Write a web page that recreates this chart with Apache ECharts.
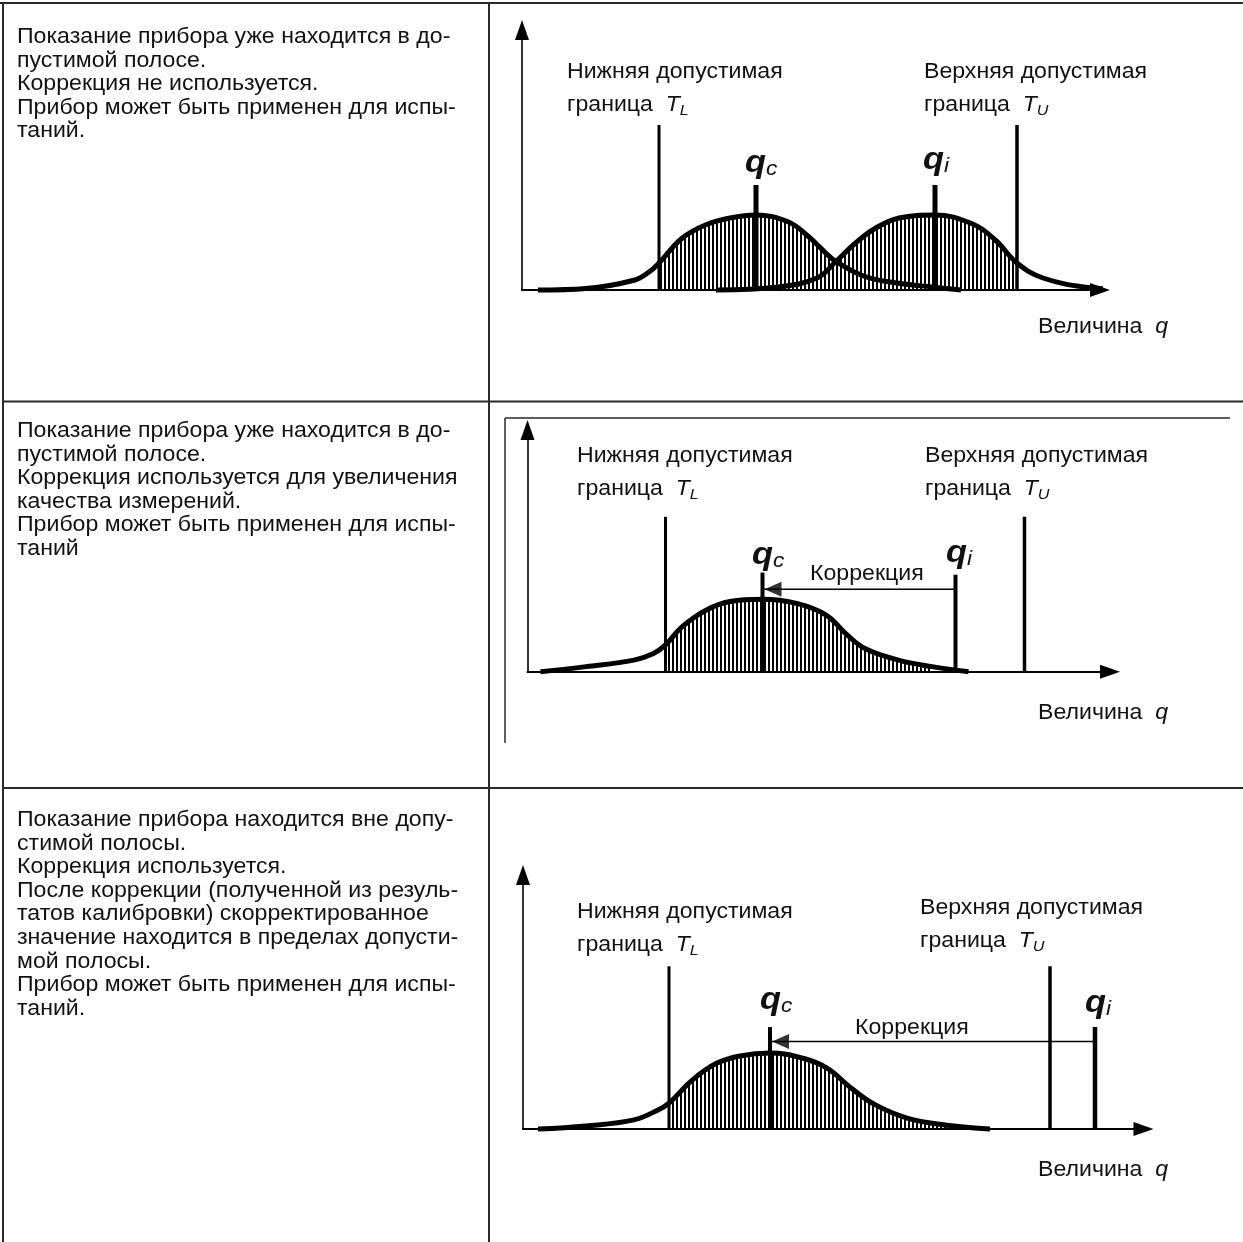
<!DOCTYPE html>
<html><head><meta charset="utf-8">
<script src="https://cdn.jsdelivr.net/npm/echarts@6/dist/echarts.min.js"></script>
<style>html,body{margin:0;padding:0;background:#fff}#c{width:1243px;height:1242px}</style>
</head><body><div id="c"></div>
<script>
// ---------- data (q in arbitrary units, density normalised to peak = 1) ----------
// Panel 1
const p1CurveC = [[1.6,0],[6.4,0.02],[11.2,0.13],[12.7,0.24],[13.7,0.36],[16.0,0.69],[18.4,0.87],[20.8,0.96],[23.4,1.0],[26.6,0.91],[28.5,0.73],[30.4,0.49],[31.4,0.38],[34.3,0.18],[37.7,0.09],[41.0,0.04],[43.9,0]];
const p1CurveI = [[19.4,0],[25.6,0.04],[29.5,0.16],[31.4,0.38],[33.3,0.62],[35.3,0.82],[37.7,0.96],[41.3,1.0],[44.9,0.89],[47.3,0.67],[49.5,0.36],[52.1,0.16],[56.9,0.03],[61.9,0]];
const p1Marks = {TL:13.7, TU:49.5, qc:23.4, qi:41.3, hT:2.2, hqc:1.4, hqi:1.4};
// Panel 2
const p2Curve = [[1.3,0],[5.85,0.07],[10.65,0.16],[12.6,0.25],[13.8,0.37],[15.45,0.62],[17.85,0.85],[20.25,0.97],[23.5,1.0],[27.0,0.94],[29.9,0.78],[31.8,0.53],[33.75,0.32],[37.1,0.16],[40.45,0.07],[44.1,0]];
const p2Marks = {TL:13.8, TU:49.7, qc:23.5, qi:42.8, hT:2.14, hqc:1.37, hqi:1.34, yArrow:1.14};
// Panel 3
const p3Curve = [[1.5,0],[6.3,0.04],[11.1,0.12],[13.5,0.25],[14.6,0.34],[16.9,0.64],[19.3,0.86],[21.7,0.96],[24.7,1.0],[28.0,0.93],[30.4,0.80],[32.8,0.54],[35.2,0.32],[38.5,0.14],[42.4,0.05],[46.7,0]];
const p3Marks = {TL:14.6, TU:52.7, qc:24.7, qi:57.2, hT:2.14, hqc:1.34, hqi:1.34, yArrow:1.15};
// axis extents
const axisMax = [{x:57.8, y:3.467},{x:58.25, y:3.34},{x:62.05, y:3.34}];

// texts
const rowTexts1 = ["Показание прибора уже находится в до-","пустимой полосе.","Коррекция не используется.","Прибор может быть применен для испы-","таний."];
const rowTexts2 = ["Показание прибора уже находится в до-","пустимой полосе.","Коррекция используется для увеличения","качества измерений.","Прибор может быть применен для испы-","таний"];
const rowTexts3 = ["Показание прибора находится вне допу-","стимой полосы.","Коррекция используется.","После коррекции (полученной из резуль-","татов калибровки) скорректированное","значение находится в пределах допусти-","мой полосы.","Прибор может быть применен для испы-","таний."];
const lowerLabel = "Нижняя допустимая";
const upperLabel = "Верхняя допустимая";
const boundWord = "граница";
const corrLabel = "Коррекция";
const qLabel = "Величина";

// ---------- rendering ----------
const FONT = '"Liberation Sans", Arial, sans-serif';
const SX = 1.075;
const FS = 21.5;
const chart = echarts.init(document.getElementById('c'), null, {renderer:'canvas'});

const hatch = document.createElement('canvas');
hatch.width = 4; hatch.height = 4;
(function(){const c = hatch.getContext('2d'); c.fillStyle = '#000'; c.fillRect(0,0,2,4);})();
const hatchFill = {image: hatch, repeat: 'repeat'};

const grids = [
  {left:522, top:30, width:578, height:260},
  {left:527.5, top:430, width:582.5, height:241.7},
  {left:523, top:875, width:620.5, height:254}
];
const axisLine = {show:true, symbol:['none','triangle'], symbolSize:[14,20], lineStyle:{color:'#000', width:2}};
const xAxes = axisMax.map((m,i)=>({gridIndex:i, type:'value', min:0, max:m.x, axisLine, axisTick:{show:false}, axisLabel:{show:false}, splitLine:{show:false}}));
const yAxes = axisMax.map((m,i)=>({gridIndex:i, type:'value', min:0, max:m.y, axisLine:Object.assign({}, axisLine, {lineStyle:{color:'#000', width:1.6}}), axisTick:{show:false}, axisLabel:{show:false}, splitLine:{show:false}}));

const SM = 0.4;
const series = [];
function curve(gi, data){ series.push({type:'line', xAxisIndex:gi, yAxisIndex:gi, data, smooth:SM, symbol:'none', clip:false, silent:true, lineStyle:{color:'#000', width:5}, z:4}); }
function hatchArea(gi, data){ series.push({type:'line', xAxisIndex:gi, yAxisIndex:gi, data, smooth:SM, symbol:'none', clip:false, silent:true, lineStyle:{width:0, opacity:0}, areaStyle:{color:hatchFill, opacity:1}, z:2}); }
function vline(gi, x, h, w){ series.push({type:'line', xAxisIndex:gi, yAxisIndex:gi, data:[[x,0],[x,h]], symbol:'none', clip:false, silent:true, lineStyle:{color:'#000', width:w}, z:5}); }
function corr(gi, m){
  series.push({type:'line', xAxisIndex:gi, yAxisIndex:gi, data:[[m.qc,m.yArrow],[m.qi,m.yArrow]], symbol:'none', clip:false, silent:true, lineStyle:{color:'#000', width:1.5}, z:5});
  series.push({type:'scatter', xAxisIndex:gi, yAxisIndex:gi, data:[[m.qc,m.yArrow]], symbol:'path://M0,7L17,0L17,14Z', symbolSize:[17,15], symbolOffset:[10.5,0], silent:true, itemStyle:{color:'#000'}, z:6});
}

// panel 1
hatchArea(0, p1CurveC.filter(p=>p[0]>=p1Marks.TL && p[0]<=p1Marks.TU));
hatchArea(0, p1CurveI.filter(p=>p[0]>=p1Marks.TL && p[0]<=p1Marks.TU));
curve(0, p1CurveC); curve(0, p1CurveI);
vline(0, p1Marks.TL, p1Marks.hT, 3); vline(0, p1Marks.TU, p1Marks.hT, 3.5);
vline(0, p1Marks.qc, p1Marks.hqc, 5); vline(0, p1Marks.qi, p1Marks.hqi, 5);
// panel 2
hatchArea(1, p2Curve.filter(p=>p[0]>=p2Marks.TL && p[0]<=p2Marks.qi));
curve(1, p2Curve);
vline(1, p2Marks.TL, p2Marks.hT, 3); vline(1, p2Marks.TU, p2Marks.hT, 3.5);
vline(1, p2Marks.qc, p2Marks.hqc, 4); vline(1, p2Marks.qi, p2Marks.hqi, 4);
corr(1, p2Marks);
// panel 3
hatchArea(2, p3Curve.filter(p=>p[0]>=p3Marks.TL && p[0]<=p3Marks.TU));
curve(2, p3Curve);
vline(2, p3Marks.TL, p3Marks.hT, 3); vline(2, p3Marks.TU, p3Marks.hT, 3.5);
vline(2, p3Marks.qc, p3Marks.hqc, 4); vline(2, p3Marks.qi, p3Marks.hqi, 4.5);
corr(2, p3Marks);

// ---------- graphics: table, texts ----------
const g = [];
function hl(x1,y1,x2,y2,w,c){ g.push({type:'line', silent:true, z:1, shape:{x1,y1,x2,y2}, style:{stroke:c||'#2a2a2a', lineWidth:w||2}}); }
hl(0,3,1243,3); hl(3,3,3,1242); hl(489,3,489,1242); hl(3,401.5,1243,401.5); hl(3,788,1243,788);
hl(505,418,1230,418,1.5); hl(505,418,505,743,1.5);

function txt(x, y, text, rich){
  const style = {text, x:0, y:0, fontSize:FS, fontFamily:FONT, fill:'#111', align:'left', verticalAlign:'middle', textAlign:'left', textVerticalAlign:'middle'};
  if (rich) style.rich = rich;
  g.push({type:'text', x, y, scaleX:SX, silent:true, z:10, style});
}
rowTexts1.forEach((t,i)=>txt(17, 37 + 23.6*i, t));
rowTexts2.forEach((t,i)=>txt(17, 431 + 23.6*i, t));
rowTexts3.forEach((t,i)=>txt(17, 820 + 23.6*i, t));

const richT = {
  a:{fontSize:FS, fontFamily:FONT, fill:'#111', lineHeight:27},
  t:{fontSize:FS, fontFamily:FONT, fill:'#111', fontStyle:'italic', lineHeight:27},
  s:{fontSize:15, fontFamily:FONT, fill:'#111', fontStyle:'italic', lineHeight:15, verticalAlign:'bottom'}
};
const richQ = {
  q:{fontSize:32, fontFamily:FONT, fill:'#111', fontStyle:'italic', fontWeight:'bold', lineHeight:34},
  s:{fontSize:21, fontFamily:FONT, fill:'#111', fontStyle:'italic', lineHeight:20, verticalAlign:'bottom'}
};
const richV = {
  a:{fontSize:FS, fontFamily:FONT, fill:'#111'},
  q:{fontSize:FS, fontFamily:FONT, fill:'#111', fontStyle:'italic'}
};
function bounds(xl, yl, xu, yu){
  txt(xl, yl, lowerLabel); txt(xl, yl+33, '{a|' + boundWord + '  }{t|T}{s|L}', richT);
  txt(xu, yu, upperLabel); txt(xu, yu+33, '{a|' + boundWord + '  }{t|T}{s|U}', richT);
}
function qlab(x, y, sub){ txt(x, y, '{q|q}{s|' + sub + '}', richQ); }
function vel(x, y){ txt(x, y, '{a|' + qLabel + '  }{q|q}', richV); }

bounds(567, 72, 924, 72); qlab(745, 163, 'c'); qlab(923, 160, 'i'); vel(1038, 327);
bounds(577, 456, 925, 456); qlab(752, 555, 'c'); qlab(946, 553, 'i'); txt(810, 574, corrLabel); vel(1038, 713);
bounds(577, 912, 920, 908); qlab(760, 1000, 'c'); qlab(1085, 1003, 'i'); txt(855, 1028, corrLabel); vel(1038, 1170);

chart.setOption({
  animation:false,
  backgroundColor:'#fff',
  grid: grids,
  xAxis: xAxes,
  yAxis: yAxes,
  series,
  graphic: g
});
</script></body></html>
